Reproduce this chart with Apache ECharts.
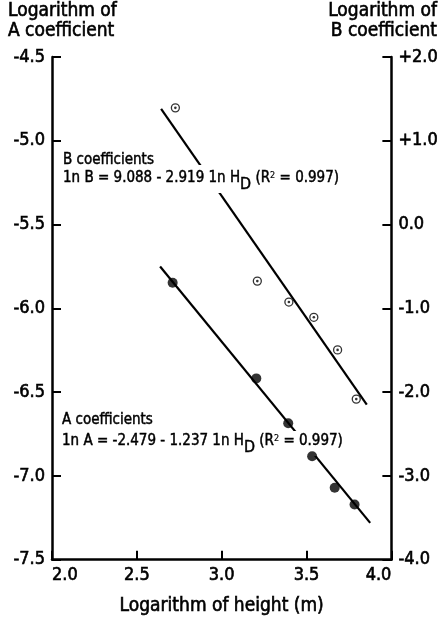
<!DOCTYPE html>
<html>
<head>
<meta charset="utf-8">
<script src="https://cdn.jsdelivr.net/npm/echarts@6/dist/echarts.min.js"></script>
<style>
html,body{margin:0;padding:0;background:#fff;}
#chart{width:441px;height:621px;}
</style>
</head>
<body>
<div id="chart"></div>
<script>
// ---- data ----
const heightA = [2.711, 3.204, 3.392, 3.533, 3.666, 3.783];
const logA    = [-5.847, -6.418, -6.686, -6.883, -7.071, -7.171];
const heightB = [2.727, 3.210, 3.396, 3.543, 3.683, 3.793];
const logB    = [1.393, -0.675, -0.925, -1.107, -1.496, -2.083];
// fitted regression lines (end points)
const fitAx = [2.637, 3.875];
const fitAy = [-5.75, -7.28];
const fitBx = [2.643, 3.855];
const fitBy = [1.38, -2.15];
// texts
const leftTitle  = ['Logarithm of', 'A coefficient'];
const rightTitle = ['Logarithm of', 'B coefficient'];
const xTitle = 'Logarithm of height (m)';
const noteB = ['B coefficients', '1n B = 9.088 - 2.919 1n H', 'D', ' (R', '2', ' = 0.997)'];
const noteA = ['A coefficients', '1n A = -2.479 - 1.237 1n H', 'D', ' (R', '2', ' = 0.997)'];

const FONT = "'DejaVu Sans Condensed', 'Liberation Sans Narrow', 'DejaVu Sans', sans-serif";
const BW = 0.6; // faux-bold stroke
const pairs = (xs, ys) => xs.map((x, i) => [x, ys[i]]);

const chart = echarts.init(document.getElementById('chart'), null, {renderer: 'canvas'});

function richLine(parts, x, y, pad) {
  const base = {fontFamily: FONT, fill: '#000', stroke: '#000', lineWidth: 0.45};
  return {
    type: 'text', z: 3, silent: true,
    style: {
      x: x, y: y,
      text: '{n|' + parts[1] + '}{d|' + parts[2] + '}{n|' + parts[3] + '}{s|' + parts[4] + '}{n|' + parts[5] + '}',
      verticalAlign: 'top', align: 'left',
      backgroundColor: '#fff', padding: pad,
      rich: {
        n: Object.assign({}, base, {fontSize: 15, lineHeight: 15, verticalAlign: 'top'}),
        d: Object.assign({}, base, {fontSize: 16, lineHeight: 22, verticalAlign: 'bottom'}),
        s: Object.assign({}, base, {fontSize: 9, lineHeight: 9, verticalAlign: 'top', lineWidth: 0.2})
      }
    }
  };
}
function plainText(t, x, y, size, align, bw) {
  return {
    type: 'text', z: 3, silent: true,
    style: {x: x, y: y, text: t, font: size + 'px ' + FONT, fill: '#000',
            stroke: '#000', lineWidth: bw,
            align: align || 'left', verticalAlign: 'middle'}
  };
}

const labelStyle = {color: '#000', fontFamily: FONT, fontSize: 18, textBorderColor: '#000', textBorderWidth: BW};
const axisCommon = {
  axisLine: {show: true, onZero: false, lineStyle: {color: '#000', width: 2.5}},
  axisTick: {show: true, inside: true, length: 9, lineStyle: {color: '#000', width: 2}},
  splitLine: {show: false}
};

const option = {
  animation: false,
  backgroundColor: '#fff',
  grid: {left: 52, right: 48, top: 57, bottom: 59, containLabel: false},
  xAxis: Object.assign({}, axisCommon, {
    type: 'value', min: 2, max: 4, interval: 0.5,
    name: xTitle, nameLocation: 'middle', nameGap: 37,
    nameTextStyle: {color: '#000', fontFamily: FONT, fontSize: 19, textBorderColor: '#000', textBorderWidth: BW},
    axisLabel: Object.assign({}, labelStyle, {
      margin: 7, alignMinLabel: 'left', alignMaxLabel: 'right',
      formatter: v => v.toFixed(1)
    })
  }),
  yAxis: [
    Object.assign({}, axisCommon, {
      type: 'value', position: 'left', min: -7.5, max: -4.5, interval: 0.5,
      axisLabel: Object.assign({}, labelStyle, {margin: 7, formatter: v => v.toFixed(1)})
    }),
    Object.assign({}, axisCommon, {
      type: 'value', position: 'right', min: -4, max: 2, interval: 1,
      axisLabel: Object.assign({}, labelStyle, {
        margin: 7, formatter: v => (v > 0 ? '+' : '') + v.toFixed(1)
      })
    })
  ],
  graphic: [
    plainText(leftTitle[0], 8, 11, 19, 'left', BW),
    plainText(leftTitle[1], 8, 31, 19, 'left', BW),
    plainText(rightTitle[0], 437, 11, 19, 'right', BW),
    plainText(rightTitle[1], 437, 31, 19, 'right', BW),
    plainText(noteB[0], 63, 160, 15, 'left', 0.45),
    richLine(noteB, 60, 165, [6, 3, 0, 3]),
    plainText(noteA[0], 62, 420, 15, 'left', 0.45),
    richLine(noteA, 59, 431, [3, 3, 0, 3])
  ],
  series: [
    {type: 'line', name: 'fitA', yAxisIndex: 0, z: 1, silent: true, showSymbol: false,
     data: pairs(fitAx, fitAy), lineStyle: {color: '#000', width: 2.2}},
    {type: 'line', name: 'fitB', yAxisIndex: 1, z: 1, silent: true, showSymbol: false,
     data: pairs(fitBx, fitBy), lineStyle: {color: '#000', width: 2.2}},
    {type: 'scatter', name: 'A', yAxisIndex: 0, z: 5, symbol: 'circle', symbolSize: 10,
     data: pairs(heightA, logA), itemStyle: {color: '#000'}},
    {type: 'scatter', name: 'B', yAxisIndex: 1, z: 5, symbol: 'circle', symbolSize: 8,
     data: pairs(heightB, logB), itemStyle: {color: '#fff', borderColor: '#000', borderWidth: 1.3}},
    {type: 'scatter', name: 'B centre', yAxisIndex: 1, z: 6, symbol: 'circle', symbolSize: 2.6,
     data: pairs(heightB, logB), itemStyle: {color: '#000'}}
  ]
};
chart.setOption(option);
</script>
</body>
</html>
